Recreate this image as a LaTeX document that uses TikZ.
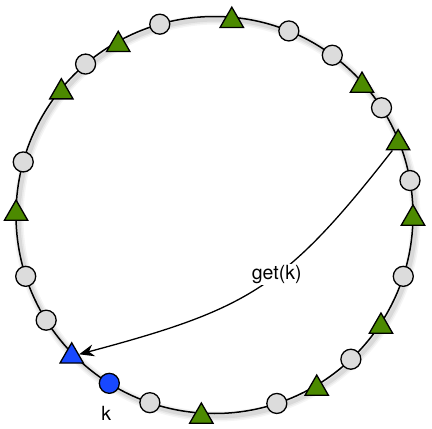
\documentclass[tikz,border=0pt]{standalone}
\usepackage{fontspec}
\setmainfont{TeX Gyre Heros}
\usetikzlibrary{shapes.geometric, arrows.meta}

\definecolor{leafgreen}{RGB}{76,138,0}
\definecolor{keyblue}{RGB}{24,72,255}
\definecolor{slotgrey}{RGB}{220,220,220}

\begin{document}
\begin{tikzpicture}[
        x=1pt, y=1pt,
        >=Stealth,
        ring/.style={draw, line width=1.5pt},
        peer/.style={circle, draw, line width=1.3pt, fill=slotgrey, minimum size=20pt, inner sep=0pt},
        item/.style={regular polygon, regular polygon sides=3, draw, line width=1.3pt, fill=leafgreen, minimum size=27pt, inner sep=0pt, yshift=-3.4pt},
        bigtext/.style={font=\fontsize{19.5}{22}\selectfont}
    ]
        \useasboundingbox (-214.5,-214) rectangle (217.5,215);
        % soft shadow under the ring
        \foreach \w/\o in {10/0.04, 7/0.05, 4/0.07}
            \draw[line width=\w pt, black, opacity=\o] (2.5,-3) circle (198.5);
        \draw[ring] (0,0) circle (198.5);
        % empty slots
        \foreach \a [count=\i] in {106, 130.5, 164.5, -162, -148, -109, -71.7, -46.6, -18, 10, 32.7, 53.6, 68}
            \node[peer] (s\i) at (\a:198.5) {};
        % stored items
        \foreach \a [count=\i] in {85, 119, 140.5, 178.6, -93.8, -59, -33, 0, 22.3, 42}
            \node[item] (t\i) at (\a:198.5) {};
        \node[peer, fill=keyblue, label={[bigtext, label distance=9pt, xshift=-3pt]below:k}] (key) at (-122:198.5) {};
        \node[item, fill=keyblue] (hit) at (-136:198.5) {};
\draw[-{Stealth[length=15pt,width=12pt]}, line width=1.3pt]
        (t9) to[out=232, in=15, looseness=1.2] node[pos=0.43, fill=white, inner sep=1pt, bigtext] {get(k)} (hit);
\end{tikzpicture}
\end{document}
